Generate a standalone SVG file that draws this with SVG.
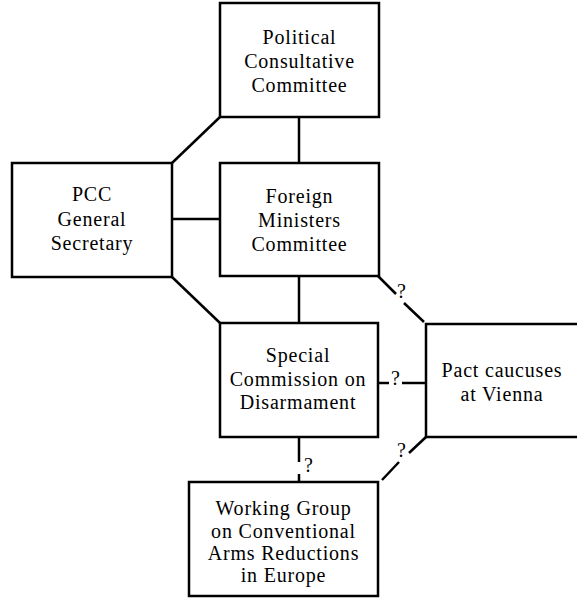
<svg xmlns="http://www.w3.org/2000/svg" width="577" height="598" viewBox="0 0 577 598">
<style>
  .box { fill: #fff; stroke: #000; stroke-width: 2.5; }
  .con { fill: none; stroke: #000; stroke-width: 2.5; }
  text { font-family: "Liberation Serif", "Times New Roman", serif; font-size: 20px; letter-spacing: 0.8px; text-anchor: middle; fill: #000; }
  .q { font-size: 20px; letter-spacing: 0; }
</style>
<rect width="577" height="598" fill="#fff"/>
<g id="connectors">
  <line class="con" x1="299" y1="117" x2="299" y2="163"/>
  <line class="con" x1="172" y1="163" x2="220" y2="117"/>
  <line class="con" x1="172" y1="219" x2="220" y2="219"/>
  <line class="con" x1="172" y1="277" x2="220" y2="323"/>
  <line class="con" x1="299" y1="276" x2="299" y2="323"/>
  <line class="con" x1="378" y1="276" x2="396" y2="294"/>
  <line class="con" x1="404" y1="303" x2="424" y2="322"/>
  <text class="q" x="401.5" y="298">?</text>
  <line class="con" x1="378" y1="383" x2="389" y2="383"/>
  <line class="con" x1="402" y1="383" x2="426" y2="383"/>
  <text class="q" x="395.5" y="385">?</text>
  <line class="con" x1="299" y1="437" x2="299" y2="462"/>
  <line class="con" x1="299" y1="474" x2="299" y2="482"/>
  <text class="q" x="308.5" y="472">?</text>
  <line class="con" x1="382" y1="480" x2="399" y2="462"/>
  <line class="con" x1="409" y1="453" x2="426" y2="437"/>
  <text class="q" x="401.5" y="457">?</text>
</g>
<g id="pcc">
  <rect class="box" x="220" y="3" width="159" height="114"/>
  <text x="299.5" y="44">Political</text>
  <text x="299.5" y="68">Consultative</text>
  <text x="299.5" y="92">Committee</text>
</g>
<g id="fmc">
  <rect class="box" x="220" y="163" width="159" height="113"/>
  <text x="299.5" y="203">Foreign</text>
  <text x="299.5" y="227">Ministers</text>
  <text x="299.5" y="251">Committee</text>
</g>
<g id="gensec">
  <rect class="box" x="12" y="163" width="160" height="114"/>
  <text x="92" y="201">PCC</text>
  <text x="92" y="226">General</text>
  <text x="92" y="250">Secretary</text>
</g>
<g id="scd">
  <rect class="box" x="220" y="323" width="158" height="114"/>
  <text x="298" y="362">Special</text>
  <text x="298" y="386">Commission on</text>
  <text x="298" y="409">Disarmament</text>
</g>
<g id="pact">
  <rect class="box" x="426" y="324" width="170" height="113"/>
  <text x="502" y="377">Pact caucuses</text>
  <text x="502" y="401">at Vienna</text>
</g>
<g id="wg">
  <rect class="box" x="189" y="482" width="189" height="114"/>
  <text x="283.5" y="515">Working Group</text>
  <text x="283.5" y="538">on Conventional</text>
  <text x="283.5" y="560">Arms Reductions</text>
  <text x="283.5" y="582">in Europe</text>
</g>
</svg>
